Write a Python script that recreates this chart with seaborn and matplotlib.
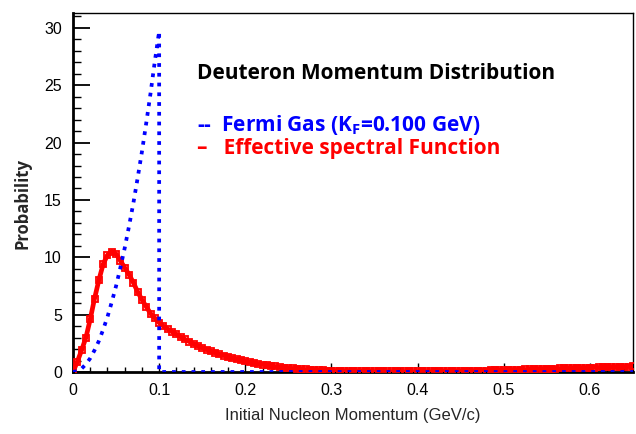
import matplotlib
matplotlib.use("Agg")
import matplotlib.pyplot as plt
from matplotlib.ticker import MultipleLocator, FuncFormatter
import numpy as np
import pandas as pd
import seaborn as sns

# Momentum grid (GeV/c), 0.005 GeV/c steps
k_fermi = [0.000, 0.005, 0.010, 0.015, 0.020, 0.025, 0.030, 0.035, 0.040, 0.045,
           0.050, 0.055, 0.060, 0.065, 0.070, 0.075, 0.080, 0.085, 0.090, 0.095,
           0.100, 0.100, 0.650]
p_fermi = [0.0, 0.08, 0.3, 0.68, 1.2, 1.9, 2.7, 3.7, 4.8, 6.1,
           7.5, 9.1, 10.8, 12.7, 14.7, 16.9, 19.2, 21.7, 24.3, 27.1,
           29.7, 0.0, 0.0]

k_spec = [round(0.005 * i, 3) for i in range(131)]
p_spec = [0.0, 0.9, 1.9, 3.0, 4.6, 6.4, 8.0, 9.4, 10.2, 10.5,
          10.3, 9.7, 9.1, 8.5, 7.8, 7.0, 6.3, 5.7, 5.1, 4.7,
          4.3, 4.0, 3.75, 3.5, 3.3, 3.05, 2.85, 2.65, 2.45, 2.28,
          2.12, 1.96, 1.82, 1.68, 1.55, 1.43, 1.32, 1.21, 1.11, 1.02,
          0.93, 0.85, 0.78, 0.71, 0.65, 0.59, 0.53, 0.48, 0.43, 0.39,
          0.35, 0.31, 0.28, 0.25, 0.22, 0.20, 0.18, 0.16, 0.14, 0.12,
          0.11, 0.10, 0.09, 0.08, 0.08, 0.07, 0.07, 0.06, 0.06, 0.06,
          0.05, 0.05, 0.05, 0.05, 0.05, 0.05, 0.05, 0.05, 0.05, 0.05,
          0.05, 0.05, 0.05, 0.05, 0.05, 0.05, 0.06, 0.06, 0.06, 0.07,
          0.07, 0.08, 0.09, 0.10, 0.11, 0.12, 0.13, 0.14, 0.15, 0.16,
          0.17, 0.18, 0.19, 0.20, 0.21, 0.22, 0.23, 0.24, 0.26, 0.27,
          0.28, 0.29, 0.30, 0.31, 0.32, 0.33, 0.34, 0.35, 0.36, 0.37,
          0.38, 0.39, 0.40, 0.41, 0.42, 0.43, 0.44, 0.45, 0.46, 0.47,
          0.48]

title_text = "Deuteron Momentum Distribution"
fermi_label = "--  Fermi Gas (K$_\\mathregular{F}$=0.100 GeV)"
spec_label = "\u2013   Effective spectral Function"
x_title = "Initial Nucleon Momentum (GeV/c)"
y_title = "Probability"

sns.set_theme(style="white")
plt.rcParams["font.family"] = ["Liberation Sans", "DejaVu Sans"]
plt.rcParams["mathtext.fontset"] = "custom"
plt.rcParams["mathtext.rm"] = "Open Sans:bold"

fermi_df = pd.DataFrame({"k": k_fermi, "p": p_fermi})
spec_df = pd.DataFrame({"k": k_spec, "p": p_spec})

fig = plt.figure(figsize=(6.36, 4.34), dpi=100)
ax = fig.add_axes([73 / 636, 62 / 434, 560 / 636, 359 / 434])

sns.lineplot(data=spec_df, x="k", y="p", ax=ax, color="red", lw=3.4,
             marker="s", markersize=4.4, markerfacecolor="none",
             markeredgecolor="red", markeredgewidth=1.3,
             estimator=None, sort=False, zorder=3)
sns.lineplot(data=fermi_df, x="k", y="p", ax=ax, color="blue", lw=2.7,
             linestyle=(0, (1.0, 1.6)), estimator=None, sort=False, zorder=4)

ax.set_xlim(0, 0.65)
ax.set_ylim(0, 31.3)
ax.xaxis.set_major_locator(MultipleLocator(0.1))
ax.xaxis.set_minor_locator(MultipleLocator(0.02))
ax.yaxis.set_major_locator(MultipleLocator(5))
ax.yaxis.set_minor_locator(MultipleLocator(1))
fmt = FuncFormatter(lambda v, _: f"{v:g}")
ax.xaxis.set_major_formatter(fmt)
ax.yaxis.set_major_formatter(fmt)

ax.tick_params(axis="both", which="both", direction="in", colors="black",
               labelsize=11.5, top=False, right=False, bottom=True, left=True)
ax.tick_params(axis="y", which="major", length=12.2, width=1.3, pad=8)
ax.tick_params(axis="y", which="minor", length=6.1, width=1.0)
ax.tick_params(axis="x", which="major", length=6.8, width=1.0, pad=8)
ax.tick_params(axis="x", which="minor", length=3.4, width=1.0)

for side in ["left", "bottom"]:
    ax.spines[side].set_linewidth(2.0)
    ax.spines[side].set_color("black")
for side in ["top", "right"]:
    ax.spines[side].set_linewidth(1.0)
    ax.spines[side].set_color("black")

ax.set_xlabel(x_title, fontsize=12, labelpad=7)
ax.set_ylabel(y_title, fontsize=12, fontweight="bold",
              family=["Open Sans", "DejaVu Sans"])
ax.yaxis.set_label_coords(-0.074, 0.47)

legend_font = ["Open Sans", "DejaVu Sans"]
ax.text(0.221, 0.832, title_text, transform=ax.transAxes, fontsize=15,
        fontweight="bold", family=legend_font, color="black", va="center")
ax.text(0.221, 0.689, fermi_label, transform=ax.transAxes, fontsize=15,
        fontweight="bold", family=legend_font, color="blue", va="center")
ax.text(0.221, 0.622, spec_label, transform=ax.transAxes, fontsize=15,
        fontweight="bold", family=legend_font, color="red", va="center")

fig.savefig("out.png", dpi=100)
